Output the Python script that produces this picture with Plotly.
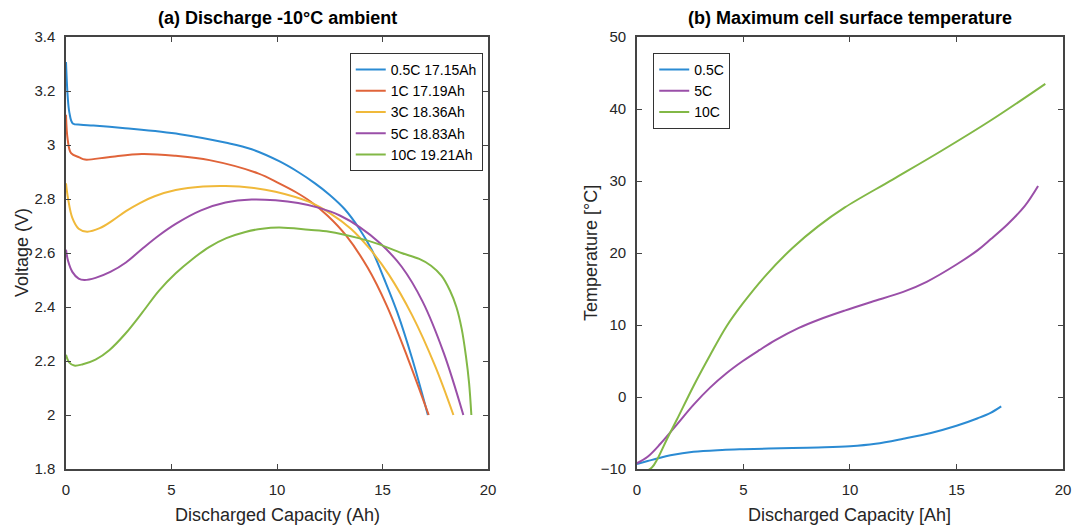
import plotly.graph_objects as go

# (a) discharge voltage at -10 C ambient
cap_05c = [0, 0.08, 0.16, 0.32, 0.7, 1.3, 2.8, 5.4, 7.6, 8.8, 10.1, 11.0, 11.8, 12.5, 13.2, 13.9, 14.5, 15.1,
           15.7, 16.4, 17.15]
volt_05c = [3.307, 3.18, 3.12, 3.08, 3.075, 3.072, 3.062, 3.04, 3.008, 2.984, 2.94, 2.90, 2.858, 2.815, 2.763,
            2.69, 2.61, 2.50, 2.38, 2.21, 2.0]

cap_1c = [0, 0.08, 0.24, 0.63, 0.9, 2.0, 3.6, 5.2, 6.8, 9.1, 10.1, 10.9, 11.6, 12.4, 13.27, 14.3, 15.2, 16.2,
          17.19]
volt_1c = [3.112, 3.02, 2.97, 2.954, 2.946, 2.955, 2.967, 2.96, 2.944, 2.895, 2.858, 2.825, 2.79, 2.738, 2.665,
           2.545, 2.405, 2.21, 2.0]

cap_3c = [0, 0.1, 0.3, 0.6, 1.0, 1.6, 2.2, 2.84, 3.5, 4.2, 5.2, 6.5, 7.56, 8.8, 9.93, 11.5, 12.5, 13.5, 14.4,
          15.3, 16.4, 17.5, 18.36]
volt_3c = [2.858, 2.80, 2.73, 2.69, 2.679, 2.692, 2.72, 2.755, 2.785, 2.81, 2.833, 2.846, 2.848, 2.842, 2.827,
           2.79, 2.748, 2.69, 2.615, 2.52, 2.37, 2.18, 2.0]

cap_5c = [0, 0.1, 0.3, 0.6, 0.87, 1.4, 2.1, 2.84, 3.6, 4.4, 5.2, 6.4, 7.56, 8.8, 9.93, 11.0, 12.0, 13.0, 13.9,
          14.9, 15.9, 16.9, 17.9, 18.83]
volt_5c = [2.612, 2.57, 2.53, 2.505, 2.50, 2.508, 2.53, 2.565, 2.615, 2.665, 2.708, 2.758, 2.787, 2.798, 2.795,
           2.785, 2.767, 2.738, 2.697, 2.635, 2.55, 2.42, 2.23, 2.0]

cap_10c = [0, 0.15, 0.39, 0.8, 1.4, 2.05, 2.8, 3.62, 4.4, 5.2, 6.0, 6.78, 7.6, 8.5, 9.3, 10.12, 11.5, 12.48,
           13.87, 14.85, 15.9, 16.74, 17.3, 17.8, 18.2, 18.5, 18.75, 18.95, 19.1, 19.21]
volt_10c = [2.223, 2.195, 2.183, 2.188, 2.205, 2.24, 2.30, 2.38, 2.46, 2.525, 2.578, 2.622, 2.655, 2.678, 2.69,
            2.694, 2.686, 2.679, 2.655, 2.632, 2.60, 2.578, 2.553, 2.515, 2.46, 2.40, 2.32, 2.22, 2.12, 2.0]

# (b) max cell surface temperature
tcap_05c = [0, 0.5, 1.0, 1.57, 2.65, 4.0, 5.0, 7.3, 8.5, 10.0, 11.2, 12.5, 13.8, 15.0, 16.0, 16.6, 17.1]
temp_05c = [-9.3, -8.9, -8.5, -8.1, -7.6, -7.35, -7.25, -7.1, -7.02, -6.85, -6.5, -5.8, -5.0, -4.0, -2.95,
            -2.2, -1.3]

tcap_5c = [0, 0.5, 1.1, 1.88, 2.65, 3.43, 4.2, 4.97, 5.74, 6.5, 7.6, 8.5, 9.75, 11.0, 12.5, 13.6, 15.0, 16.0,
           16.6, 17.4, 18.2, 18.83]
temp_5c = [-9.2, -8.3, -6.5, -3.8, -1.1, 1.3, 3.3, 5.0, 6.5, 7.9, 9.6, 10.7, 12.0, 13.2, 14.6, 16.0, 18.4, 20.4,
           21.9, 24.0, 26.5, 29.3]

tcap_10c = [0, 0.4, 0.7, 0.96, 1.4, 1.88, 2.65, 3.43, 4.2, 4.97, 6.05, 7.3, 8.5, 9.74, 12.0, 14.3, 16.6, 19.17]
temp_10c = [-10.4, -10.3, -9.8, -8.6, -5.9, -3.1, 1.5, 5.8, 9.8, 13.0, 16.9, 20.7, 23.7, 26.3, 30.2, 34.2, 38.4,
            43.5]

BLUE = "#2B8BD3"
RED = "#E0643A"
YELLOW = "#F0B93A"
PURPLE = "#9A4FA8"
GREEN = "#82B846"

FONT = "Liberation Sans, Arial, sans-serif"
INK = "#262626"

fig = go.Figure()

left = [
    (cap_05c, volt_05c, "0.5C 17.15Ah", BLUE),
    (cap_1c, volt_1c, "1C 17.19Ah", RED),
    (cap_3c, volt_3c, "3C 18.36Ah", YELLOW),
    (cap_5c, volt_5c, "5C 18.83Ah", PURPLE),
    (cap_10c, volt_10c, "10C 19.21Ah", GREEN),
]
for x, y, name, col in left:
    fig.add_trace(go.Scatter(x=x, y=y, name=name, mode="lines",
                             line=dict(color=col, width=2, shape="spline", smoothing=1.0),
                             xaxis="x", yaxis="y", legend="legend"))

right = [
    (tcap_05c, temp_05c, "0.5C", BLUE),
    (tcap_5c, temp_5c, "5C", PURPLE),
    (tcap_10c, temp_10c, "10C", GREEN),
]
for x, y, name, col in right:
    fig.add_trace(go.Scatter(x=x, y=y, name=name, mode="lines",
                             line=dict(color=col, width=2, shape="spline", smoothing=1.0),
                             xaxis="x2", yaxis="y2", legend="legend2"))

axis_style = dict(
    showline=True, linecolor="#444444", linewidth=1.5, mirror="ticks",
    ticks="inside", ticklen=5, tickcolor="#444444", tickwidth=1,
    showgrid=False, zeroline=False,
    tickfont=dict(family=FONT, size=15, color=INK),
    ticklabelstandoff=6,
)

legend_style = dict(bgcolor="white", bordercolor="#333333", borderwidth=1, yanchor="top", y=0.963,
                    font=dict(family=FONT, size=14, color="black"), tracegroupgap=0)


def label(text, x, y, angle=0, bold=False, size=18, color=INK):
    return dict(text=f"<b>{text}</b>" if bold else text, x=x, y=y, xref="paper", yref="paper",
                xanchor="center", yanchor="middle", textangle=angle, showarrow=False,
                font=dict(family=FONT, size=size, color=color))


fig.update_layout(
    width=1087, height=527,
    margin=dict(l=66, r=24, t=37, b=58),
    paper_bgcolor="white", plot_bgcolor="white",
    font=dict(family=FONT, color=INK),
    xaxis=dict(domain=[0, 0.4233], range=[0, 20], dtick=5, anchor="y", **axis_style),
    yaxis=dict(domain=[0, 1], range=[1.8, 3.4], dtick=0.2, anchor="x", **axis_style),
    xaxis2=dict(domain=[0.5727, 1], range=[0, 20], dtick=5, anchor="y2", **axis_style),
    yaxis2=dict(domain=[0, 1], range=[-10, 50], dtick=10, anchor="x2", **axis_style),
    legend=dict(x=0.418, xanchor="right", **legend_style),
    legend2=dict(x=0.589, xanchor="left", **legend_style),
    annotations=[
        label("(a) Discharge -10°C ambient", 0.2117, 1.044, bold=True, color="black"),
        label("(b) Maximum cell surface temperature", 0.786, 1.044, bold=True, color="black"),
        label("Discharged Capacity (Ah)", 0.2117, -0.1065),
        label("Discharged Capacity [Ah]", 0.786, -0.1065),
        label("Voltage (V)", -0.0441, 0.5, angle=-90),
        label("Temperature [°C]", 0.5266, 0.5, angle=-90),
    ],
)

fig.write_html("out.html", config={"displayModeBar": False},
               post_script="document.body.style.margin='0';")
